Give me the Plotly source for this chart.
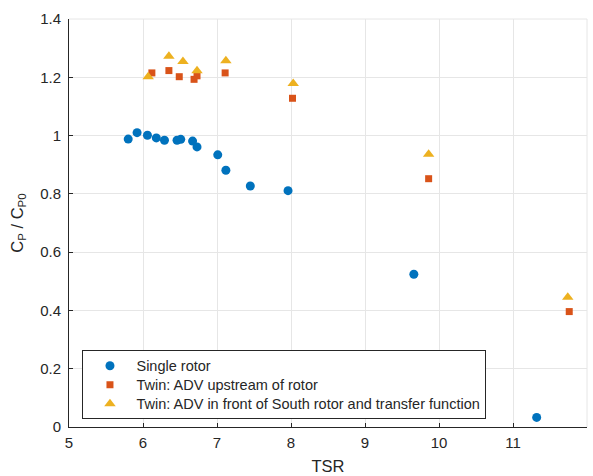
import plotly.graph_objects as go

# Single rotor
tsr_single = [5.80, 5.92, 6.06, 6.18, 6.29, 6.46, 6.51, 6.67, 6.73, 7.01, 7.12, 7.45, 7.96, 9.66, 11.32]
cp_single = [0.988, 1.010, 1.001, 0.992, 0.984, 0.984, 0.987, 0.981, 0.961, 0.934, 0.881, 0.827, 0.811, 0.524, 0.033]

# Twin rotor, ADV upstream of rotor
tsr_twin_up = [6.12, 6.35, 6.49, 6.69, 6.73, 7.11, 8.02, 9.86, 11.76]
cp_twin_up = [1.215, 1.223, 1.202, 1.193, 1.205, 1.215, 1.128, 0.852, 0.396]

# Twin rotor, ADV in front of South rotor with transfer function
tsr_twin_tf = [6.07, 6.35, 6.54, 6.73, 7.12, 8.03, 9.86, 11.74]
cp_twin_tf = [1.202, 1.272, 1.254, 1.222, 1.257, 1.179, 0.936, 0.445]

x_ticks = [5, 6, 7, 8, 9, 10, 11, 12]
y_ticks = [0, 0.2, 0.4, 0.6, 0.8, 1, 1.2, 1.4]
y_tick_text = ["0", "0.2", "0.4", "0.6", "0.8", "1", "1.2", "1.4"]

FONT = "Liberation Sans, Arial, sans-serif"
AX = "#262626"
GRID = "#e6e6e6"


def entry(label):
    # larger glyphs than the legend's line pitch, so rows stay compact
    return f'<span style="font-size:14.5px">{label}</span>'


fig = go.Figure()
fig.add_trace(go.Scatter(
    x=tsr_single, y=cp_single, mode="markers", name=entry("Single rotor"),
    marker=dict(symbol="circle", size=9, color="#0072BD", line=dict(width=0)),
))
fig.add_trace(go.Scatter(
    x=tsr_twin_up, y=cp_twin_up, mode="markers", name=entry("Twin: ADV upstream of rotor"),
    marker=dict(symbol="square", size=7, color="#D95319", line=dict(width=0)),
))
fig.add_trace(go.Scatter(
    x=tsr_twin_tf, y=cp_twin_tf, mode="markers",
    name=entry("Twin: ADV in front of South rotor and transfer function"),
    marker=dict(symbol="triangle-up", size=10, color="#EDB120", line=dict(width=0)),
))

fig.update_layout(
    width=593, height=476,
    margin=dict(l=68.5, r=6, t=19, b=49),
    paper_bgcolor="white", plot_bgcolor="white",
    font=dict(family=FONT, color=AX, size=15),
    showlegend=True,
    legend=dict(
        x=0.026, y=0.188, xanchor="left", yanchor="top",
        bgcolor="white", bordercolor="#262626", borderwidth=1,
        font=dict(size=12.3, color=AX), itemwidth=43,
        tracegroupgap=0,
    ),
    xaxis=dict(
        range=[5, 12], tickvals=x_ticks, ticks="inside", ticklen=4, tickcolor=AX,
        showline=True, linecolor=AX, linewidth=1, mirror=False, automargin=False,
        showgrid=True, gridcolor=GRID, gridwidth=1, zeroline=False,
        tickfont=dict(size=15, color=AX), ticklabelstandoff=2,
        title=dict(text="TSR", font=dict(size=16.5, color=AX), standoff=10),
    ),
    yaxis=dict(
        range=[0, 1.4], tickvals=y_ticks, ticktext=y_tick_text,
        ticks="inside", ticklen=4, tickcolor=AX,
        showline=True, linecolor=AX, linewidth=1, mirror=False, automargin=False,
        showgrid=True, gridcolor=GRID, gridwidth=1, zeroline=False,
        tickfont=dict(size=15, color=AX), ticklabelstandoff=4,
        title=dict(text="C<sub>P</sub> / C<sub>P0</sub>", font=dict(size=16.5, color=AX), standoff=12),
    ),
)

# top and right edges of the plot area carry only grid lines
fig.add_shape(type="line", xref="paper", yref="paper", x0=0, x1=1, y0=1, y1=1,
              line=dict(color=GRID, width=1), layer="below")
fig.add_shape(type="line", xref="paper", yref="paper", x0=1, x1=1, y0=0, y1=1,
              line=dict(color=GRID, width=1), layer="below")

fig.write_html("out.html")
